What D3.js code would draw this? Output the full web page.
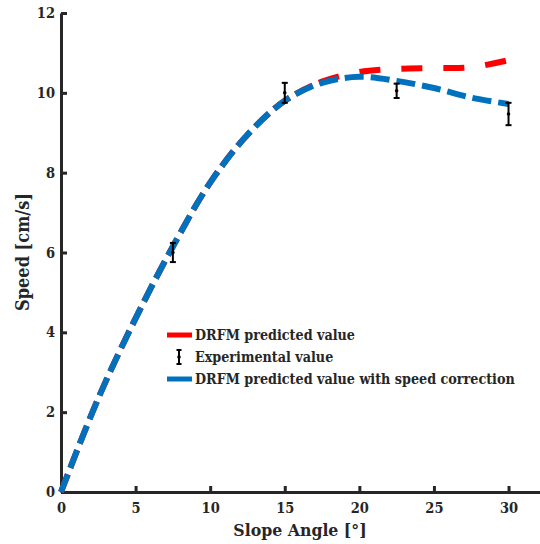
<!DOCTYPE html>
<html><head><meta charset="utf-8">
<script src="https://cdn.jsdelivr.net/npm/d3@7"></script>
<style>
body{margin:0;background:#fff}
svg{display:block}
text{font-family:"DejaVu Serif Condensed","DejaVu Serif",serif;font-weight:bold;font-stretch:condensed;fill:#262626}
</style>
</head><body><svg id="c" width="540" height="544"></svg>
<script>
// ---- data ----
const angles    = [0, 2.5, 5, 7.5, 10, 12.5, 15, 17.5, 20, 22.5, 25, 27.5, 30];
const drfm      = [0, 2.35, 4.35, 6.15, 7.75, 8.95, 9.8, 10.28, 10.52, 10.6, 10.62, 10.64, 10.82];
const corrected = [0, 2.35, 4.35, 6.15, 7.75, 8.95, 9.8, 10.25, 10.4, 10.3, 10.12, 9.88, 9.72];
const expAngles = [7.5, 15, 22.5, 30];
const expMean   = [6.0, 10.0, 10.05, 9.47];
const expErr    = [0.24, 0.25, 0.18, 0.28];
const xTicks = [0, 5, 10, 15, 20, 25, 30];
const yTicks = [0, 2, 4, 6, 8, 10, 12];
const legendLabels = ["DRFM predicted value", "Experimental value", "DRFM predicted value with speed correction"];

const svg = d3.select("#c");
const axisColor = "#262626";
const x = d3.scaleLinear().domain([0, 32.11]).range([61, 540]);
const y = d3.scaleLinear().domain([0, 12]).range([492, 13]);

// axes
const gx = svg.append("g").attr("transform", `translate(0,${y(0)})`)
  .call(d3.axisBottom(x).tickValues(xTicks).tickSizeInner(-6).tickSizeOuter(0).tickPadding(11));
const gy = svg.append("g").attr("transform", `translate(${x(0)},0)`)
  .call(d3.axisLeft(y).tickValues(yTicks).tickSizeInner(-6).tickSizeOuter(0).tickPadding(6));
[gx, gy].forEach(g => {
  g.attr("font-family", null);
  g.select(".domain").attr("stroke", axisColor).attr("stroke-width", 3);
  g.selectAll(".tick line").attr("stroke", axisColor).attr("stroke-width", 3);
  g.selectAll(".tick text").attr("font-size", 14.5).attr("fill", axisColor);
});

// axis labels
svg.append("text").attr("x", 300).attr("y", 536).attr("text-anchor", "middle")
  .attr("font-size", 17.5).text("Slope Angle [°]");
svg.append("text").attr("transform", "translate(29,252) rotate(-90)").attr("text-anchor", "middle")
  .attr("font-size", 18).text("Speed [cm/s]");

// curves
const line = d3.line().x(d => x(d[0])).y(d => y(d[1])).curve(d3.curveCatmullRom.alpha(0.5));
const redPts = angles.map((a, i) => [a, drfm[i]]);
const bluePts = angles.map((a, i) => [a, corrected[i]]);
const redPath = svg.append("path").datum(redPts)
  .attr("d", line).attr("fill", "none").attr("stroke", "#ff0000").attr("stroke-width", 6);
// dash pattern: same phase as the blue line where both coincide, then its own pattern
const tmp = svg.append("path").attr("d", line(redPts.slice(0, 8)));
const L0 = tmp.node().getTotalLength(); tmp.remove();
const total = redPath.node().getTotalLength();
const dash = []; let s = 0;
while (s + 26 <= L0) { dash.push(19, 7); s += 26; }
while (s < total + 42) { dash.push(21, 21); s += 42; }
redPath.attr("stroke-dasharray", dash.join(","));

svg.append("path").datum(bluePts)
  .attr("d", line).attr("fill", "none").attr("stroke", "#0072bd")
  .attr("stroke-width", 6).attr("stroke-dasharray", "19,7");

// error bars
function errBar(g, cx, yTop, yBot, yMid, capW) {
  g.append("line").attr("x1", cx).attr("x2", cx).attr("y1", yTop).attr("y2", yBot)
    .attr("stroke", "#000").attr("stroke-width", 2);
  [yTop, yBot].forEach(yy => g.append("line").attr("x1", cx - capW).attr("x2", cx + capW)
    .attr("y1", yy).attr("y2", yy).attr("stroke", "#000").attr("stroke-width", 2));
  g.append("circle").attr("cx", cx).attr("cy", yMid).attr("r", 1.8).attr("fill", "#000");
}
const ge = svg.append("g");
expAngles.forEach((a, i) => {
  errBar(ge, x(a), y(expMean[i] + expErr[i]), y(expMean[i] - expErr[i]), y(expMean[i]), 3);
});

// legend
const lg = svg.append("g");
const rows = [335, 357, 379];
lg.append("line").attr("x1", 167).attr("x2", 192).attr("y1", rows[0]).attr("y2", rows[0])
  .attr("stroke", "#ff0000").attr("stroke-width", 5);
errBar(lg, 179, rows[1] - 7, rows[1] + 7, rows[1], 2.5);
lg.append("line").attr("x1", 167).attr("x2", 192).attr("y1", rows[2]).attr("y2", rows[2])
  .attr("stroke", "#0072bd").attr("stroke-width", 5);
legendLabels.forEach((t, i) => {
  lg.append("text").attr("x", 195).attr("y", rows[i] + 5).attr("font-size", 14.2).text(t);
});
</script>
</body></html>
